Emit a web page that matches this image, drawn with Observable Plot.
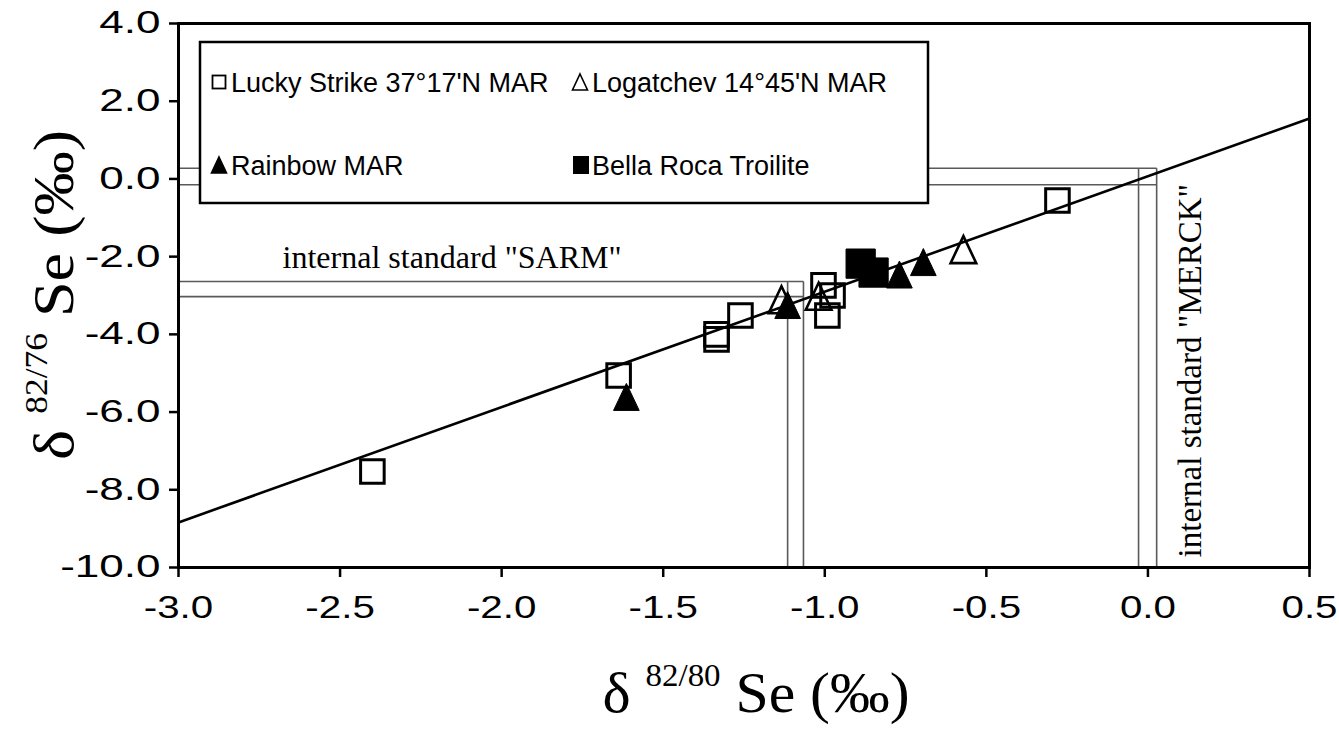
<!DOCTYPE html>
<html><head><meta charset="utf-8">
<script src="https://cdn.jsdelivr.net/npm/d3@7"></script>
<script src="https://cdn.jsdelivr.net/npm/@observablehq/plot@0.6"></script>
<style>body{margin:0;background:#fff} svg{display:block}</style>
</head><body><div id="chart"></div>
<script>
// ---- data ----
const luckyX = [-0.280, -1.004, -0.976, -0.992, -1.261, -1.335, -1.335, -1.638, -2.400];
const luckyY = [-0.555, -2.74, -3.00, -3.515, -3.515, -4.00, -4.13, -5.06, -7.53];
const logatX = [-0.571, -1.019, -1.134];
const logatY = [-1.82, -3.02, -3.11];
const rainX = [-0.695, -0.769, -1.115, -1.614];
const rainY = [-2.14, -2.46, -3.245, -5.61];
const bellaX = [-0.889, -0.849];
const bellaY = [-2.18, -2.41];
// regression line parameters
const fitSlope = 2.97, fitIntercept = 0.07;
// internal standards: [low, high] bounds
const sarmX = [-1.115, -1.066], sarmY = [-3.03, -2.64];
const merckX = [-0.029, 0.027], merckY = [-0.151, 0.276];
const xTicks = [-3.0, -2.5, -2.0, -1.5, -1.0, -0.5, 0.0, 0.5];
const yTicks = [4, 2, 0, -2, -4, -6, -8, -10];
const xDomain = [-3, 0.5], yDomain = [-10, 4];
const legendLabels = ["Lucky Strike 37°17'N MAR", "Logatchev 14°45'N MAR", "Rainbow MAR", "Bella Roca Troilite"];

const zip = (xs, ys) => xs.map((x, i) => ({x, y: ys[i]}));
const lucky = zip(luckyX, luckyY), logat = zip(logatX, logatY), rain = zip(rainX, rainY), bella = zip(bellaX, bellaY);
const fit = xDomain.map(x => ({x, y: fitSlope * x + fitIntercept}));

// standard band lines (horizontal pair to outer x, vertical pair down to axis)
function bandSegs(bx, by) {
  return [
    {x1: xDomain[0], x2: bx[1], y1: by[1], y2: by[1]},
    {x1: xDomain[0], x2: bx[1], y1: by[0], y2: by[0]},
    {x1: bx[0], x2: bx[0], y1: by[1], y2: yDomain[0]},
    {x1: bx[1], x2: bx[1], y1: by[1], y2: yDomain[0]}
  ];
}
const bands = [...bandSegs(sarmX, sarmY), ...bandSegs(merckX, merckY)];

const tri = {draw(ctx, size) { const r = Math.sqrt(size / Math.PI); ctx.moveTo(0, -r); ctx.lineTo(r * 0.95, r); ctx.lineTo(-r * 0.95, r); ctx.closePath(); }};
const fmt = d => d.toFixed(1);
const serif = "'Liberation Serif', 'Times New Roman', serif";

const plot = Plot.plot({
  width: 1339, height: 733,
  marginLeft: 178, marginRight: 30, marginTop: 23, marginBottom: 166,
  x: {domain: xDomain},
  y: {domain: yDomain},
  style: {fontFamily: "'Liberation Sans', Arial, sans-serif", fontSize: "31px", color: "#000", background: "#fff", overflow: "visible"},
  marks: [
    Plot.link(bands, {x1: "x1", y1: "y1", x2: "x2", y2: "y2", stroke: "#5a5a5a", strokeWidth: 1.6}),
    Plot.line(fit, {x: "x", y: "y", stroke: "#000", strokeWidth: 2.6}),
    Plot.dot(lucky, {x: "x", y: "y", symbol: "square", r: 13.3, stroke: "#000", strokeWidth: 3, fill: "none"}),
    Plot.dot(logat, {x: "x", y: "y", symbol: tri, r: 13.5, stroke: "#000", strokeWidth: 2.6, fill: "none"}),
    Plot.dot(rain, {x: "x", y: "y", symbol: tri, r: 13.5, fill: "#000", stroke: "#000", strokeWidth: 1}),
    Plot.dot(bella, {x: "x", y: "y", symbol: "square", r: 16.5, fill: "#000", stroke: "#000", strokeWidth: 1}),
    Plot.text(["internal standard \"SARM\""], {x: -2.678, y: -2.30, text: d => d, textAnchor: "start", lineAnchor: "bottom", fontFamily: serif, fontSize: 32}),
    Plot.text(["internal standard \"MERCK\""], {x: 0.165, y: -9.74, text: d => d, rotate: -90, textAnchor: "start", lineAnchor: "bottom", fontFamily: serif, fontSize: 33}),
    Plot.axisX({ticks: xTicks, tickFormat: fmt, tickSize: 10, tickPadding: 18, strokeWidth: 2.5, label: null}),
    Plot.axisY({ticks: yTicks, tickFormat: fmt, tickSize: 9, tickPadding: 9, strokeWidth: 2.5, label: null}),
    Plot.frame({stroke: "#000", strokeWidth: 3})
  ]
});
document.getElementById("chart").appendChild(plot);

const svg = d3.select(plot);
// stretch tick labels to match the wide look of the original
function stretch(sel, k) {
  svg.selectAll(sel).each(function() {
    const w = this.getComputedTextLength();
    this.setAttribute("textLength", w * k);
    this.setAttribute("lengthAdjust", "spacingAndGlyphs");
  });
}
stretch('g[aria-label="x-axis tick label"] text', 1.3);
stretch('g[aria-label="y-axis tick label"] text', 1.42);

// legend
const lg = svg.append("g").attr("font-family", "'Liberation Sans', Arial, sans-serif").attr("font-size", 27).attr("text-anchor", "start");
lg.append("rect").attr("x", 200).attr("y", 42).attr("width", 728).attr("height", 161).attr("fill", "#fff").attr("stroke", "#000").attr("stroke-width", 2.5);
const items = [
  {sx: 219, sy: 82, kind: "sq", fill: "none", tx: 231, label: legendLabels[0]},
  {sx: 580, sy: 82, kind: "tri", fill: "none", tx: 592, label: legendLabels[1]},
  {sx: 219, sy: 165, kind: "tri", fill: "#000", tx: 231, label: legendLabels[2]},
  {sx: 581, sy: 165, kind: "bsq", fill: "#000", tx: 592, label: legendLabels[3]}
];
items.forEach(it => {
  if (it.kind === "sq") lg.append("rect").attr("x", it.sx - 6.5).attr("y", it.sy - 6.5).attr("width", 13).attr("height", 13).attr("fill", "none").attr("stroke", "#000").attr("stroke-width", 1.8);
  else if (it.kind === "bsq") lg.append("rect").attr("x", it.sx - 8).attr("y", it.sy - 9).attr("width", 16).attr("height", 18).attr("fill", "#000");
  else lg.append("path").attr("d", `M${it.sx},${it.sy - 8}L${it.sx + 7.5},${it.sy + 8}L${it.sx - 7.5},${it.sy + 8}Z`).attr("fill", it.fill).attr("stroke", "#000").attr("stroke-width", 1.6);
  lg.append("text").attr("x", it.tx).attr("y", it.sy + 9.5).text(it.label);
});

// axis titles with superscripts
function title(g, sup, len) {
  const t = g.append("text").attr("font-family", serif).attr("text-anchor", "middle").attr("font-size", 58);
  t.append("tspan").text("δ ");
  t.append("tspan").attr("font-size", 32).attr("dy", -26).text(sup);
  t.append("tspan").attr("dy", 26).text(" Se (‰)");
  t.attr("textLength", len).attr("lengthAdjust", "spacingAndGlyphs");
  return t;
}
title(svg.append("g").attr("transform", "translate(756,712)"), "82/80", 307);
title(svg.append("g").attr("transform", "translate(73,295) rotate(-90)"), "82/76", 330);
</script>
</body></html>
